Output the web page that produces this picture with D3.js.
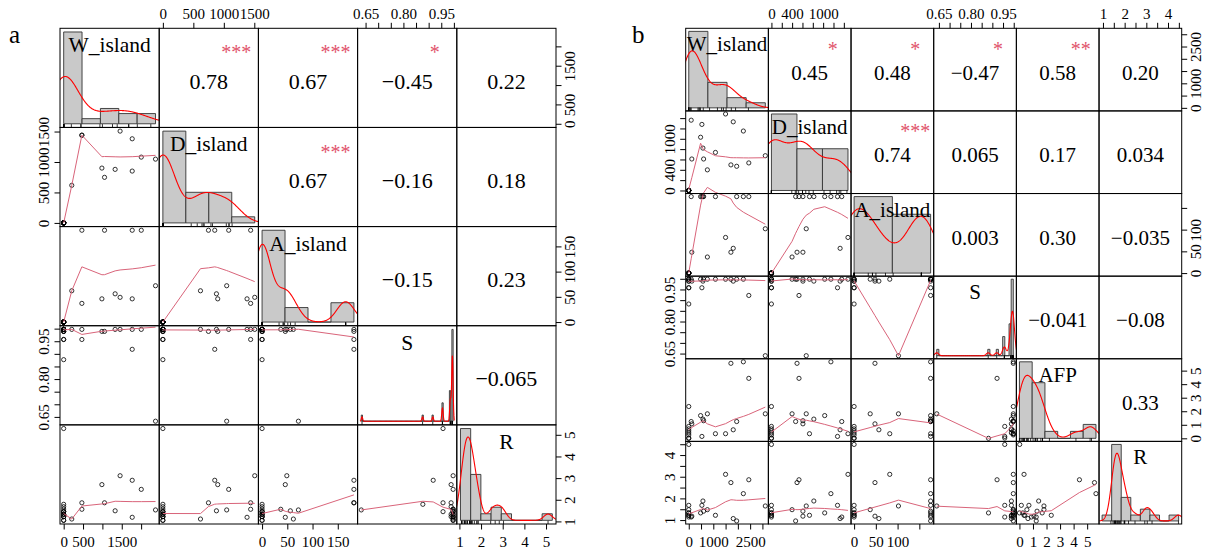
<!DOCTYPE html>
<html>
<head>
<meta charset="utf-8">
<script src="https://cdn.jsdelivr.net/npm/d3@7"></script>
<style>
  body { margin: 0; background: #fff; }
  text { font-family: "Liberation Serif", "Times New Roman", serif; }
</style>
</head>
<body>
<svg id="chart" width="1211" height="555"></svg>
<script>
// ---------- panel a : 26 sites, 5 variables ----------
var varsA = ["W_island", "D_island", "A_island", "S", "R"];
var wA = [0,0,0,0,0,0,0,0,0,0,0,0,0,0,0, 209,470,470,987,1055,1329,1457,1770,1770,2004,2372];
var dA = [0,0,0,0,0,0,0,0,0,0,0,0,0,0,0, 617,1440,1440,900,748,879,1507,851,1381,1080,1047];
var aA = [0,0,0,0,0,0,0,0,0,0,0,0,0,0,0, 62,182,37,46,182,56,49,182,46,182,72];
var sA = [0.957,0.877,0.989,0.997,0.957,0.997,0.997,0.989,0.997,0.997,0.989,0.997,0.997,0.997,0.997,
          0.997,0.957,0.997,0.989,0.989,0.997,0.997,0.918,0.997,0.997,0.633];
var rA = [5.29,1.79,1.68,1.57,1.45,1.45,1.45,1.33,1.33,1.33,1.22,1.22,1.22,1.05,1.05,
          1.11,1.86,1.56,2.70,1.86,1.49,3.11,2.90,1.19,2.48,1.53];
// upper triangle, row by row
var corA = ["0.78", "0.67", "\u22120.45", "0.22", "0.67", "\u22120.16", "0.18", "\u22120.15", "0.23", "\u22120.065"];
var starsA = ["***", "***", "*", "", "***", "", "", "", "", ""];
var ticksA = [[0,500,1000,1500,2000], [0,500,1000,1500], [0,50,100,150],
              [0.65,0.70,0.75,0.80,0.85,0.90,0.95,1.00], [1,2,3,4,5]];
var labelsA = [["0","500","1500"], ["0","500","1000","1500"], ["0","50","100","150"],
               ["0.65","0.80","0.95"], ["1","2","3","4","5"]];
var breaksA = [[0,2500,500], [0,2000,500], [0,200,50], [0.63,1.0,0.005], [1,5.5,0.5]];

// ---------- panel b : 23 sites, 6 variables ----------
var varsB = ["W_island", "D_island", "A_island", "S", "AFP", "R"];
var wB = [0,0,0,0,0,0,0,0, 99,124,482,535,577,605,758,1087,1499,1717,1812,1952,2224,2446,3118];
var dB = [0,0,0,0,0,0,0,0, 1360,609,1030,1278,820,609,399,736,1480,495,1328,468,1150,533,673];
var aB = [0,0,0,0,0,0,0,0, 176,48,176,176,176,176,37,176,82,48,57,176,176,176,102];
var sB = [0.998,0.958,0.989,0.998,0.989,0.998,0.958,0.882,
          0.998,0.989,0.998,0.958,0.989,0.998,0.998,0.998,0.998,0.998,0.989,0.998,0.998,0.922,0.640];
var afpB = [2.35,0.88,0.70,0.55,0.40,0.25,0.02,0.0,
            1.24,1.07,1.68,0.14,1.42,1.30,1.81,0.34,0.34,5.54,0.63,1.24,5.65,4.43,1.81];
var rB = [1.22,1.14,1.68,1.48,1.22,1.33,4.49,1.33,
          1.14,1.18,1.33,1.68,1.88,1.41,1.48,1.22,3.11,2.73,1.07,0.96,2.22,2.86,1.65];
var corB = ["0.45", "0.48", "\u22120.47", "0.58", "0.20",
            "0.74", "0.065", "0.17", "0.034",
            "0.003", "0.30", "\u22120.035",
            "\u22120.041", "\u22120.08",
            "0.33"];
var starsB = ["*", "*", "*", "**", "", "***", "", "", "", "", "", "", "", "", ""];
var ticksB = [[0,500,1000,1500,2000,2500,3000], [0,200,400,600,800,1000,1200,1400], [0,50,100,150],
              [0.65,0.70,0.75,0.80,0.85,0.90,0.95,1.00], [0,1,2,3,4,5], [1,1.5,2,2.5,3,3.5,4,4.5]];
var labelsB = [["0","1000","2500"], ["0","400","1000"], ["0","50","100"],
               ["0.65","0.80","0.95"], ["0","1","2","3","4","5"], ["1","2","3","4"]];
var breaksB = [[0,4000,1000], [0,1500,500], [0,200,100], [0.64,1.0,0.01], [0,6,1], [0.5,4.5,0.5]];

var svg = d3.select("#chart");
var FONT = '"Liberation Serif", "Times New Roman", serif';

// right-closed histogram counts, like R's hist()
function binCounts(vals, br) {
  var lo = br[0], hi = br[1], step = br[2];
  var nb = Math.round((hi - lo) / step);
  var bins = d3.range(nb).map(function(k) { return {x0: lo + k * step, x1: lo + (k + 1) * step, c: 0}; });
  vals.forEach(function(v) {
    var k = Math.ceil((v - lo) / step - 1e-9) - 1;
    k = Math.max(0, Math.min(nb - 1, k));
    bins[k].c++;
  });
  return bins;
}

// gaussian density with bw.nrd0
function kde(v) {
  var s = v.slice().sort(d3.ascending), n = v.length;
  var sd = d3.deviation(v), iqr = d3.quantileSorted(s, 0.75) - d3.quantileSorted(s, 0.25);
  var lo = Math.min(sd, iqr / 1.34);
  if (!lo) lo = sd || Math.abs(v[0]) || 1;
  var bw = 0.9 * lo * Math.pow(n, -0.2);
  var a = s[0] - 3 * bw, b = s[n - 1] + 3 * bw;
  return d3.range(512).map(function(k) {
    var t = a + (b - a) * k / 511;
    return [t, d3.sum(v, function(x) { return Math.exp(-0.5 * Math.pow((t - x) / bw, 2)); }) / (n * bw * Math.sqrt(2 * Math.PI))];
  });
}

// port of R's clowess
function lowess(xIn, yIn, f, nsteps) {
  var n = xIn.length;
  var ord = d3.range(n).sort(function(a, b) { return (xIn[a] - xIn[b]) || (a - b); });
  var x = [NaN].concat(ord.map(function(i) { return xIn[i]; }));
  var y = [NaN].concat(ord.map(function(i) { return yIn[i]; }));
  var ys = d3.range(n + 1).map(function() { return 0; });
  var rw = ys.map(function() { return 1; }), res = ys.slice(), w = ys.slice();
  var range = x[n] - x[1], delta = 0.01 * range;
  var ns = Math.max(2, Math.min(n, Math.floor(f * n + 1e-7)));

  function lowest(xs, nleft, nright, userw) {
    var h = Math.max(xs - x[nleft], x[nright] - xs), h9 = 0.999 * h, h1 = 0.001 * h;
    var a = 0, j = nleft;
    while (j <= n) {
      w[j] = 0;
      var r = Math.abs(x[j] - xs);
      if (r <= h9) {
        w[j] = r <= h1 ? 1 : Math.pow(1 - Math.pow(r / h, 3), 3);
        if (userw) w[j] *= rw[j];
        a += w[j];
      } else if (x[j] > xs) break;
      j++;
    }
    var nrt = j - 1;
    if (a <= 0) return null;
    for (j = nleft; j <= nrt; j++) w[j] /= a;
    if (h > 0) {
      a = 0;
      for (j = nleft; j <= nrt; j++) a += w[j] * x[j];
      var b = xs - a, c = 0;
      for (j = nleft; j <= nrt; j++) c += w[j] * (x[j] - a) * (x[j] - a);
      if (Math.sqrt(c) > 0.001 * range) {
        b /= c;
        for (j = nleft; j <= nrt; j++) w[j] *= (b * (x[j] - a) + 1);
      }
    }
    var s = 0;
    for (j = nleft; j <= nrt; j++) s += w[j] * y[j];
    return s;
  }

  for (var iter = 1; iter <= nsteps + 1; iter++) {
    var nleft = 1, nright = ns, last = 0, i = 1;
    for (;;) {
      if (nright < n) {
        var d1 = x[i] - x[nleft], d2 = x[nright + 1] - x[i];
        if (d1 > d2) { nleft++; nright++; continue; }
      }
      var v = lowest(x[i], nleft, nright, iter > 1);
      ys[i] = v === null ? y[i] : v;
      if (last < i - 1) {
        var denom = x[i] - x[last];
        for (var j = last + 1; j < i; j++) {
          var al = (x[j] - x[last]) / denom;
          ys[j] = al * ys[i] + (1 - al) * ys[last];
        }
      }
      last = i;
      var cut = x[last] + delta;
      for (i = last + 1; i <= n; i++) {
        if (x[i] > cut) break;
        if (x[i] === x[last]) { ys[i] = ys[last]; last = i; }
      }
      i = Math.max(last + 1, i - 1);
      if (last >= n) break;
    }
    var sc = 0;
    for (var q = 1; q <= n; q++) { res[q] = y[q] - ys[q]; sc += Math.abs(res[q]); }
    sc /= n;
    if (iter > nsteps) break;
    var ar = res.slice(1).map(Math.abs).sort(d3.ascending);
    var m1 = Math.floor(n / 2);
    var cmad = n % 2 === 0 ? 3 * (ar[m1] + ar[n - m1 - 1]) : 6 * ar[m1];
    if (cmad < 1e-7 * sc) break;
    var c9 = 0.999 * cmad, c1 = 0.001 * cmad;
    for (q = 1; q <= n; q++) {
      var rr = Math.abs(res[q]);
      rw[q] = rr <= c1 ? 1 : (rr <= c9 ? Math.pow(1 - Math.pow(rr / cmad, 2), 2) : 0);
    }
  }
  return d3.range(1, n + 1).map(function(k) { return [x[k], ys[k]]; });
}

function drawPanel(p) {
  var k = p.vars.length;
  var cw = (p.x1 - p.x0) / k, ch = (p.y1 - p.y0) / k;
  var px = cw * 0.04 / 1.08, py = ch * 0.04 / 1.08;
  var g = svg.append("g");
  var n = p.data[0].length;

  function colX(j) {
    return d3.scaleLinear().domain(d3.extent(p.data[j]))
      .range([p.x0 + j * cw + px, p.x0 + (j + 1) * cw - px]);
  }
  function rowY(i) {
    return d3.scaleLinear().domain(d3.extent(p.data[i]))
      .range([p.y0 + (i + 1) * ch - py, p.y0 + i * ch + py]);
  }

  var ci = 0;
  for (var i = 0; i < k; i++) {
    for (var j = 0; j < k; j++) {
      var L = p.x0 + j * cw, T = p.y0 + i * ch;
      var cell = g.append("g");

      if (i === j) {
        var vals = p.data[i], br = p.breaks[i];
        var bins = binCounts(vals, br);
        bins.forEach(function(b) { b.d = b.c / (n * br[2]); });
        var hx = d3.scaleLinear().domain([br[0], br[1]]).range([L + px, L + cw - px]);
        var hy = d3.scaleLinear().domain([0, d3.max(bins, function(b) { return b.d; })])
          .range([T + ch - py, T + py]);
        var cid = p.id + "clip" + i;
        svg.append("clipPath").attr("id", cid).append("rect")
          .attr("x", L).attr("y", T).attr("width", cw).attr("height", ch);

        cell.selectAll("path.bar").data(bins).join("path")
          .attr("class", "bar")
          .attr("d", function(b) {
            return "M" + hx(b.x0) + "," + hy(0) + "V" + hy(b.d) + "H" + hx(b.x1) + "V" + hy(0) + "Z";
          })
          .attr("fill", "#c9c9c9").attr("stroke", "#333").attr("stroke-width", 0.9);

        cell.append("path").datum(kde(vals))
          .attr("clip-path", "url(#" + cid + ")")
          .attr("d", d3.line().x(function(d) { return hx(d[0]); }).y(function(d) { return hy(d[1]); }))
          .attr("fill", "none").attr("stroke", "#f00").attr("stroke-width", 1.1);

        cell.selectAll("line.rug").data(vals).join("line")
          .attr("class", "rug")
          .attr("x1", function(d) { return hx(d); }).attr("x2", function(d) { return hx(d); })
          .attr("y1", T + ch).attr("y2", T + ch - 3.3)
          .attr("stroke", "#000").attr("stroke-width", 0.8);

        cell.append("text")
          .attr("x", L + cw / 2).attr("y", T + p.labOff)
          .attr("text-anchor", "middle")
          .attr("font-size", p.labFs).attr("fill", "#000")
          .text(p.vars[i]);
      } else if (i > j) {
        var sx = colX(j), sy = rowY(i);
        var xv = p.data[j], yv = p.data[i];
        cell.selectAll("circle").data(d3.range(n)).join("circle")
          .attr("cx", function(q) { return sx(xv[q]); })
          .attr("cy", function(q) { return sy(yv[q]); })
          .attr("r", 2.1)
          .attr("fill", "none").attr("stroke", "#000").attr("stroke-width", 0.8);
        cell.append("path").datum(lowess(xv, yv, 2 / 3, 3))
          .attr("d", d3.line().x(function(d) { return sx(d[0]); }).y(function(d) { return sy(d[1]); }))
          .attr("fill", "none").attr("stroke", "#d9647a").attr("stroke-width", 1);
      } else {
        cell.append("text")
          .attr("x", L + cw / 2).attr("y", T + ch / 2 + p.corOff)
          .attr("text-anchor", "middle")
          .attr("font-size", p.corFs).attr("fill", "#000")
          .text(p.cor[ci]);
        if (p.stars[ci]) {
          cell.append("text")
            .attr("x", L + px + 0.8 * (cw - 2 * px))
            .attr("y", T + py + 0.2 * (ch - 2 * py) - 1.5 + 0.53 * p.starFs)
            .attr("text-anchor", "middle")
            .attr("font-size", p.starFs).attr("fill", "#DF536B")
            .text(p.stars[ci]);
        }
        ci++;
      }
    }
  }

  // cell borders
  for (i = 0; i < k; i++) {
    for (j = 0; j < k; j++) {
      g.append("rect")
        .attr("x", p.x0 + j * cw).attr("y", p.y0 + i * ch)
        .attr("width", cw).attr("height", ch)
        .attr("fill", "none").attr("stroke", "#000").attr("stroke-width", 1);
    }
  }

  function fmt(labels) {
    return function(d) {
      var l = labels.find(function(s) { return Math.abs(+s - d) < 1e-9; });
      return l === undefined ? "" : l;
    };
  }
  function addAxis(gen, sc, idx, tr, side) {
    var ag = g.append("g").attr("transform", tr)
      .call(gen(sc).tickValues(p.ticks[idx]).tickSize(5.5).tickSizeOuter(0).tickFormat(fmt(p.labels[idx])));
    ag.attr("font-family", FONT).attr("font-size", 15);
    ag.select(".domain").remove();
    ag.selectAll("line").attr("stroke", "#000");
    var t = ag.selectAll("text").attr("fill", "#000").attr("dy", null);
    if (side === "top") t.attr("y", -9.5);
    if (side === "bottom") t.attr("y", 22.5);
    if (side === "left") t.attr("x", null).attr("text-anchor", "middle").attr("transform", "translate(-11,0) rotate(-90)");
    if (side === "right") t.attr("x", null).attr("text-anchor", "middle").attr("transform", "translate(19,0) rotate(-90)");
  }
  for (j = 0; j < k; j++) {
    if (j % 2 === 1) addAxis(d3.axisTop, colX(j), j, "translate(0," + p.y0 + ")", "top");
    else addAxis(d3.axisBottom, colX(j), j, "translate(0," + p.y1 + ")", "bottom");
  }
  for (i = 0; i < k; i++) {
    if (i % 2 === 1) addAxis(d3.axisLeft, rowY(i), i, "translate(" + p.x0 + ",0)", "left");
    else addAxis(d3.axisRight, rowY(i), i, "translate(" + p.x1 + ",0)", "right");
  }

  svg.append("text").attr("x", p.tagX).attr("y", 43).attr("font-size", 25).attr("fill", "#000").text(p.tag);
}

drawPanel({
  id: "a", tag: "a", tagX: 9,
  x0: 60, x1: 556, y0: 28.3, y1: 524,
  vars: varsA, data: [wA, dA, aA, sA, rA],
  cor: corA, stars: starsA, ticks: ticksA, labels: labelsA, breaks: breaksA,
  labFs: 21.5, labOff: 24, corFs: 22, corOff: 11, starFs: 20
});
drawPanel({
  id: "b", tag: "b", tagX: 632,
  x0: 685.7, x1: 1181.7, y0: 28.3, y1: 524,
  vars: varsB, data: [wB, dB, aB, sB, afpB, rB],
  cor: corB, stars: starsB, ticks: ticksB, labels: labelsB, breaks: breaksB,
  labFs: 21, labOff: 23, corFs: 21, corOff: 10, starFs: 20
});
</script>
</body>
</html>
